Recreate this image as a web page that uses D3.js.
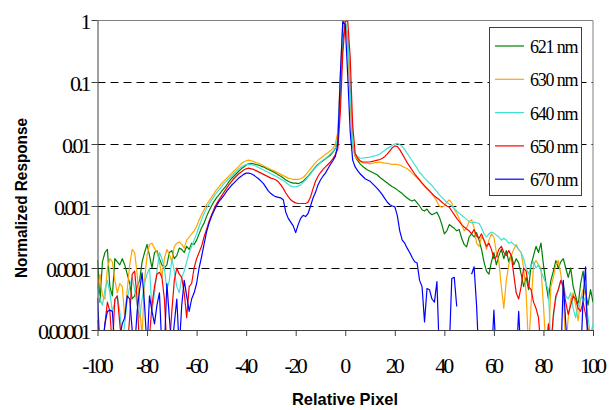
<!DOCTYPE html>
<html>
<head>
<meta charset="utf-8">
<script src="https://cdn.jsdelivr.net/npm/d3@7"></script>
<style>
body { margin: 0; background: #fff; }
.tick text { font-family: "Liberation Serif", "Times New Roman", serif; font-size: 22px; letter-spacing: -3px; fill: #000; }
.title { font-family: "Liberation Sans", Arial, sans-serif; font-weight: bold; font-size: 17px; fill: #000; }
.legend text { font-family: "Liberation Serif", "Times New Roman", serif; font-size: 18px; letter-spacing: -1.2px; fill: #000; }
</style>
</head>
<body>
<div id="plot"></div>
<script>
// relative pixel positions (x)
const relPixel = d3.range(-100, 101);

// log10 of normalized response, one value per relative pixel -100 .. 100 (null = no point)
const nm621 = [
  -3.87,-4.55,-3.9,-3.75,-3.7,-4.3,-4.45,-3.85,-3.9,-3.95,
  -3.85,-3.95,-4.1,-4.25,-4.5,-4.45,-4.3,-4.2,-3.9,-3.75,
  -3.62,-3.8,-4.0,-3.75,-3.72,-3.85,-3.95,-4.0,-3.95,-3.75,
  -3.72,-3.85,-3.8,-3.68,-3.7,-3.75,-3.65,-3.7,-3.6,-3.62,
  -3.55,-3.45,-3.35,-3.28,-3.17,-3.08,-3.0,-2.93,-2.87,-2.82,
  -2.77,-2.72,-2.67,-2.61,-2.56,-2.52,-2.48,-2.44,-2.4,-2.37,
  -2.34,-2.32,-2.31,-2.32,-2.33,-2.34,-2.36,-2.37,-2.39,-2.41,
  -2.43,-2.45,-2.47,-2.5,-2.52,-2.55,-2.58,-2.6,-2.62,-2.63,
  -2.63,-2.64,-2.62,-2.6,-2.56,-2.52,-2.47,-2.42,-2.37,-2.33,
  -2.3,-2.27,-2.24,-2.21,-2.18,-2.13,-2.07,-1.95,-1.2,-0.35,
  -0.02,-0.3,-1.1,-2.0,-2.2,-2.27,-2.32,-2.36,-2.39,-2.42,
  -2.44,-2.46,-2.48,-2.5,-2.54,-2.57,-2.6,-2.63,-2.66,-2.69,
  -2.71,-2.74,-2.77,-2.8,-2.84,-2.87,-2.9,-2.92,-2.9,-2.95,
  -3.0,-3.06,-3.08,-3.05,-3.11,-3.14,-3.12,-3.1,-3.18,-3.3,
  -3.45,-3.4,-3.3,-3.33,-3.36,-3.4,-3.38,-3.52,-3.62,-3.66,
  -3.5,-3.45,-3.5,-3.43,-3.55,-3.7,-3.9,-4.05,-4.1,-3.9,
  -3.75,-3.95,-3.8,-3.7,-3.85,-3.72,-3.9,-3.78,-3.95,-3.85,
  -3.92,-4.1,-4.3,-4.15,-4.35,-3.95,-3.8,-3.65,-3.75,-3.6,
  -3.95,-4.25,-4.5,-4.2,-4.05,-3.88,-4.0,-3.9,-3.85,-4.0,
  -4.15,-4.0,-4.3,-4.45,-4.6,-4.25,-4.05,-4.4,-4.6,-4.35,
  -4.55
];
const nm630 = [
  -4.3,-4.1,-4.45,-4.5,-4.0,-3.85,-3.9,-4.2,-4.4,-4.25,
  -4.3,-4.8,-4.35,-3.95,-3.7,-3.75,-4.1,-4.6,-5.1,-4.2,
  -3.8,-3.62,-3.6,-3.68,-3.75,-3.9,-4.15,-3.85,-3.7,-3.78,
  -3.9,-3.65,-3.6,-3.58,-3.62,-3.68,-3.55,-3.5,-3.45,-3.4,
  -3.33,-3.23,-3.14,-3.06,-2.98,-2.92,-2.86,-2.8,-2.74,-2.69,
  -2.64,-2.6,-2.56,-2.52,-2.48,-2.44,-2.4,-2.36,-2.32,-2.29,
  -2.27,-2.26,-2.27,-2.28,-2.3,-2.31,-2.33,-2.35,-2.37,-2.39,
  -2.41,-2.43,-2.45,-2.47,-2.49,-2.51,-2.53,-2.55,-2.56,-2.57,
  -2.57,-2.57,-2.56,-2.54,-2.5,-2.45,-2.4,-2.35,-2.3,-2.26,
  -2.23,-2.2,-2.17,-2.14,-2.11,-2.07,-2.0,-1.8,-0.9,-0.05,
  -0.01,-0.4,-1.3,-2.05,-2.2,-2.25,-2.28,-2.3,-2.31,-2.31,
  -2.32,-2.31,-2.3,-2.3,-2.29,-2.3,-2.31,-2.31,-2.32,-2.33,
  -2.33,-2.33,-2.34,-2.36,-2.38,-2.4,-2.43,-2.47,-2.51,-2.55,
  -2.59,-2.63,-2.67,-2.71,-2.75,-2.8,-2.86,-2.93,-3.0,-3.02,
  -3.0,-2.94,-2.9,-2.95,-3.05,-3.12,-3.2,-3.3,-3.4,-3.35,
  -3.25,-3.22,-3.35,-3.6,-3.65,-3.5,-3.55,-3.7,-3.55,-3.45,
  -3.5,-3.75,-3.9,-4.3,-4.65,-4.2,-3.95,-3.8,-3.7,-3.62,
  -3.7,-3.75,-4.0,-4.4,-5.3,-4.6,-3.95,-3.88,-3.95,-4.0,
  -4.6,-5.3,-5.3,-4.3,-4.15,-3.95,-3.88,-4.1,-4.4,-5.3,
  -4.8,-4.5,-4.4,-4.6,-4.85,-4.5,-4.35,-4.45,-5.0,-5.3,
  -4.9
];
const nm640 = [
  -4.3,-4.5,-4.6,-4.35,-4.2,-4.4,-4.7,-4.55,-4.45,-4.7,
  -5.2,-4.9,-4.5,-4.3,-4.15,-4.35,-4.6,-4.8,-4.5,-4.25,
  -4.1,-4.0,-4.7,-4.4,-4.05,-3.75,-3.85,-4.0,-4.35,-4.2,
  -3.85,-4.05,-4.3,-4.4,-4.15,-4.05,-3.9,-3.75,-3.65,-3.55,
  -3.45,-3.33,-3.22,-3.12,-3.04,-2.97,-2.91,-2.85,-2.79,-2.74,
  -2.69,-2.64,-2.6,-2.56,-2.52,-2.48,-2.44,-2.4,-2.37,-2.35,
  -2.33,-2.33,-2.33,-2.34,-2.36,-2.38,-2.4,-2.42,-2.44,-2.46,
  -2.48,-2.5,-2.52,-2.54,-2.57,-2.59,-2.62,-2.65,-2.68,-2.69,
  -2.69,-2.68,-2.66,-2.62,-2.58,-2.53,-2.48,-2.43,-2.38,-2.34,
  -2.3,-2.26,-2.23,-2.2,-2.16,-2.12,-2.06,-1.9,-1.0,-0.15,
  -0.02,-0.25,-1.15,-2.02,-2.16,-2.2,-2.23,-2.23,-2.22,-2.22,
  -2.21,-2.2,-2.19,-2.18,-2.16,-2.13,-2.1,-2.07,-2.05,-2.02,
  -2.0,-1.99,-2.01,-2.04,-2.09,-2.15,-2.21,-2.27,-2.33,-2.39,
  -2.46,-2.5,-2.55,-2.59,-2.63,-2.67,-2.72,-2.77,-2.82,-2.86,
  -2.9,-2.94,-2.97,-3.0,-3.04,-3.08,-3.12,-3.15,-3.18,-3.22,
  -3.25,-3.27,-3.26,-3.27,-3.28,-3.35,-3.45,-3.5,-3.45,-3.42,
  -3.44,-3.47,-3.5,-3.55,-3.52,-3.55,-3.6,-3.58,-3.62,-3.65,
  -3.7,-3.75,-3.85,-4.0,-4.1,-3.95,-3.9,-4.0,-3.95,-4.05,
  -4.15,-4.25,-4.35,-5.3,-4.8,-4.5,-4.35,-4.2,-4.25,-4.45,
  -4.5,-4.4,-4.65,-4.8,-4.6,-4.5,-4.45,-4.55,-4.8,-5.1,
  -4.9
];
const nm650 = [
  -4.84,-5.3,-5.3,-4.9,-4.55,-4.7,-5.3,-4.5,-4.45,-4.9,
  -5.3,-5.3,-5.3,-4.8,-4.1,-4.05,-4.5,-5.3,-5.3,-5.3,
  -5.3,-5.1,-4.6,-4.3,-4.1,-4.07,-4.15,-4.5,-5.3,-5.3,
  -4.7,-4.2,-4.0,-4.1,-4.15,-4.4,-4.8,-4.3,-4.25,-4.0,
  -3.85,-3.75,-3.65,-3.5,-3.38,-3.25,-3.15,-3.05,-2.97,-2.9,
  -2.84,-2.78,-2.72,-2.66,-2.61,-2.56,-2.52,-2.48,-2.45,-2.42,
  -2.4,-2.39,-2.4,-2.41,-2.43,-2.45,-2.47,-2.49,-2.51,-2.53,
  -2.55,-2.56,-2.58,-2.61,-2.66,-2.72,-2.79,-2.85,-2.9,-2.93,
  -2.95,-2.96,-2.96,-2.96,-2.96,-2.94,-2.85,-2.72,-2.6,-2.52,
  -2.46,-2.41,-2.37,-2.33,-2.29,-2.24,-2.17,-2.08,-1.5,-0.55,
  -0.02,-0.02,-0.6,-1.7,-2.15,-2.23,-2.27,-2.29,-2.29,-2.29,
  -2.29,-2.28,-2.27,-2.26,-2.25,-2.23,-2.2,-2.16,-2.11,-2.06,
  -2.03,-2.04,-2.09,-2.16,-2.23,-2.3,-2.36,-2.42,-2.48,-2.53,
  -2.58,-2.63,-2.68,-2.72,-2.76,-2.8,-2.84,-2.87,-2.9,-2.94,
  -2.97,-3.0,-3.02,-3.08,-3.14,-3.2,-3.25,-3.3,-3.34,-3.37,
  -3.4,-3.45,-3.38,-3.48,-3.52,-3.45,-3.55,-3.65,-3.6,-3.7,
  -3.85,-3.82,-3.7,-3.65,-3.75,-3.8,-3.72,-3.8,-4.1,-4.4,
  -4.5,-4.3,-4.0,-4.05,-4.3,-4.35,-4.55,-4.65,-4.8,-5.3,
  -5.3,-5.3,-4.9,-5.3,-4.75,-4.45,-4.35,-4.2,-4.3,-4.55,
  -4.75,-4.6,-4.45,-4.5,-4.65,-4.7,-4.55,-4.75,-5.0,-5.3,
  -5.3
];
const nm670 = [
  -4.48,-5.3,-5.3,-4.9,-4.7,-4.68,-4.7,-5.3,-5.3,-5.1,
  -4.9,-4.8,-4.45,-4.5,-5.0,-5.3,-4.7,-4.35,-4.08,-4.6,
  -5.3,-4.45,-4.7,-4.9,-4.6,-4.4,-5.3,-5.3,-4.25,-4.8,
  -5.3,-4.9,-4.5,-5.3,-4.6,-4.2,-4.45,-4.7,-4.5,-4.4,
  -4.25,-4.0,-3.82,-3.62,-3.42,-3.28,-3.17,-3.08,-3.0,-2.93,
  -2.88,-2.83,-2.77,-2.72,-2.67,-2.63,-2.59,-2.55,-2.52,-2.49,
  -2.47,-2.47,-2.48,-2.5,-2.53,-2.56,-2.6,-2.64,-2.7,-2.76,
  -2.8,-2.83,-2.85,-2.86,-2.87,-2.9,-3.1,-3.2,-3.26,-3.32,
  -3.43,-3.3,-3.2,-3.15,-3.17,-3.12,-3.0,-2.87,-2.78,-2.66,
  -2.58,-2.52,-2.47,-2.4,-2.33,-2.27,-2.2,-2.0,-0.9,-0.02,
  -0.08,-0.9,-1.8,-2.26,-2.37,-2.43,-2.48,-2.52,-2.56,-2.58,
  -2.6,-2.64,-2.68,-2.72,-2.77,-2.82,-2.88,-2.94,-2.98,-3.0,
  -3.01,-3.15,-3.4,-3.55,-3.6,-3.68,-3.75,-3.83,-3.9,-3.92,
  -4.2,-4.3,-4.87,-4.33,-4.35,-4.5,-4.55,-4.22,-5.4,-5.5,
  -5.5,-5.5,-5.3,-4.17,-4.15,-4.62,null,null,null,null,
  null,-4.1,-3.98,-4.6,-5.5,-5.5,-5.5,-5.5,-5.5,-5.5,
  -4.68,-5.5,-5.5,-5.5,-5.5,-5.5,-5.5,-5.5,-5.5,-5.5,
  -4.7,-5.5,-5.5,-5.5,-5.5,-5.5,-5.5,-5.5,-5.5,-5.5,
  -5.5,-5.5,-5.5,-5.5,-5.5,-5.5,-5.5,-5.5,-4.2,-4.9,
  -5.5,-5.5,-5.5,-5.5,-5.5,-5.5,-4.5,-3.98,-5.5,-5.5,
  -5.5
];

const seriesNames = ["621 nm", "630 nm", "640 nm", "650 nm", "670 nm"];
const seriesColors = ["#008000", "#ffa500", "#40e0d0", "#ff0000", "#0000ff"];
const seriesLogs = [nm621, nm630, nm640, nm650, nm670];

const xTicks = [-100, -80, -60, -40, -20, 0, 20, 40, 60, 80, 100];
const yTicks = [0.00001, 0.0001, 0.001, 0.01, 0.1, 1];
const yTickLabels = ["0.00001", "0.0001", "0.001", "0.01", "0.1", "1"];
const gridValues = [0.0001, 0.001, 0.01, 0.1];

const svgWidth = 609, svgHeight = 410;
const margin = {top: 20, right: 16, bottom: 80, left: 97.5};
const width = svgWidth - margin.left - margin.right;
const height = svgHeight - margin.top - margin.bottom;

const root = d3.select("#plot")
  .append("svg")
  .attr("width", svgWidth)
  .attr("height", svgHeight);

const svg = root.append("g")
  .attr("transform", "translate(" + margin.left + "," + margin.top + ")");

const x = d3.scaleLinear().domain([-100, 100]).range([0, width]);
const y = d3.scaleLog().domain([0.00001, 1]).range([height, 0]);

svg.append("clipPath").attr("id", "clip")
  .append("rect").attr("width", width).attr("height", height);

// dashed gridlines
svg.append("g")
  .selectAll("line")
  .data(gridValues)
  .enter()
  .append("line")
    .attr("x1", 0)
    .attr("x2", width)
    .attr("y1", d => Math.round(y(d)) + 0.5)
    .attr("y2", d => Math.round(y(d)) + 0.5)
    .attr("stroke", "#000")
    .attr("stroke-dasharray", "8,5");

// plot border (top / right)
svg.append("path")
  .attr("d", "M0,0.5H" + width + "V" + height)
  .attr("fill", "none")
  .attr("stroke", "#808080");

// series
const line = d3.line()
  .defined(d => d.v != null)
  .x(d => x(d.x))
  .y(d => y(Math.pow(10, d.v)));

const lines = svg.append("g").attr("clip-path", "url(#clip)");
seriesLogs.forEach(function (vals, i) {
  const pts = relPixel.map((px, j) => ({x: px, v: vals[j]}));
  lines.append("path")
    .datum(pts)
    .attr("d", line)
    .attr("fill", "none")
    .attr("stroke", seriesColors[i])
    .attr("stroke-width", 1.2)
    .attr("stroke-linejoin", "round");
});

// X axis
const xAxis = svg.append("g")
  .attr("transform", "translate(0," + height + ")")
  .call(d3.axisBottom(x).tickValues(xTicks).tickSize(6).tickSizeOuter(0).tickFormat(d => d));
xAxis.select(".domain").attr("stroke", "#404040");
xAxis.selectAll(".tick line").attr("stroke", "#404040");
xAxis.selectAll(".tick text").attr("y", 43).attr("dy", 0).attr("dx", -1.5);

// Y axis
const yAxis = svg.append("g")
  .call(d3.axisLeft(y).tickValues(yTicks).tickSize(6).tickSizeOuter(0)
    .tickFormat((d, i) => yTickLabels[i]));
yAxis.select(".domain").attr("stroke", "#404040");
yAxis.selectAll(".tick line").attr("stroke", "#404040");
yAxis.selectAll(".tick text").attr("x", -9).attr("dy", 8.5);

// axis titles
root.append("text")
  .attr("class", "title")
  .attr("x", 345)
  .attr("y", 405)
  .attr("text-anchor", "middle")
  .attr("textLength", 106)
  .attr("lengthAdjust", "spacingAndGlyphs")
  .text("Relative Pixel");

root.append("text")
  .attr("class", "title")
  .attr("transform", "translate(27,198) rotate(-90)")
  .attr("text-anchor", "middle")
  .attr("textLength", 160)
  .attr("lengthAdjust", "spacingAndGlyphs")
  .text("Normalized Response");

// legend
const legend = root.append("g").attr("class", "legend");
legend.append("rect")
  .attr("x", 489.5).attr("y", 27.5)
  .attr("width", 92).attr("height", 168)
  .attr("fill", "#fff")
  .attr("stroke", "#404040");

const items = legend.selectAll("g.item")
  .data(seriesNames)
  .enter()
  .append("g")
  .attr("class", "item")
  .attr("transform", (d, i) => "translate(0," + (46 + i * 33.3) + ")");

items.append("line")
  .attr("x1", 495).attr("x2", 524)
  .attr("stroke", (d, i) => seriesColors[i])
  .attr("stroke-width", 1.2);

items.append("text")
  .attr("x", 530)
  .attr("y", 7)
  .text(d => d);
</script>
</body>
</html>
